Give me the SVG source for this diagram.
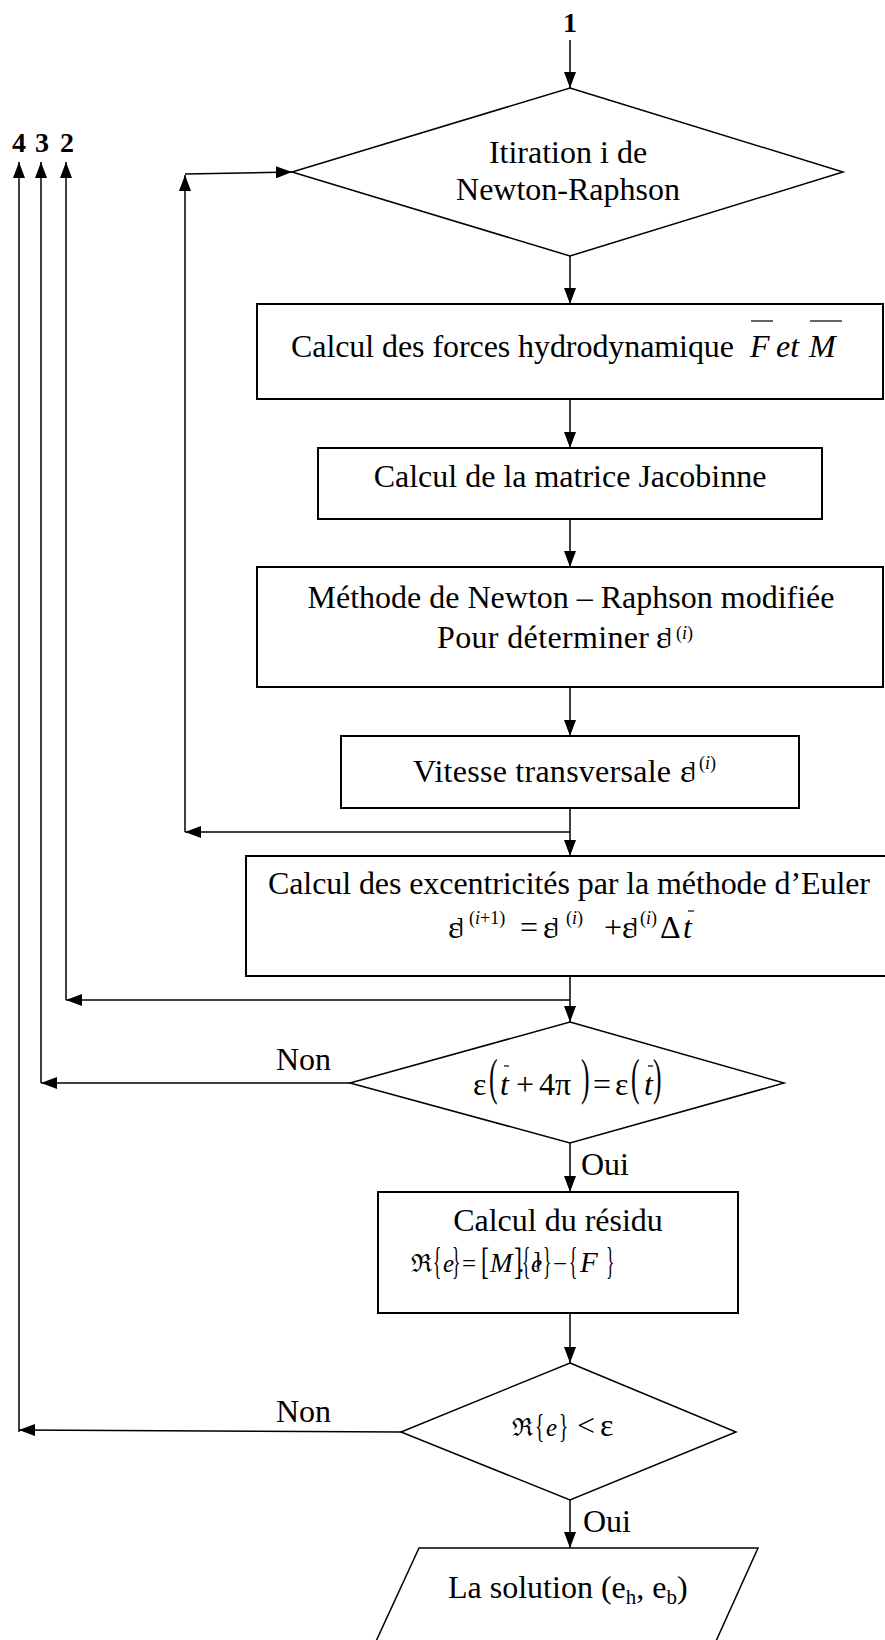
<svg xmlns="http://www.w3.org/2000/svg" width="885" height="1640" viewBox="0 0 885 1640">
  <defs>
    <marker id="ah" markerWidth="16" markerHeight="12" refX="16" refY="6" orient="auto" markerUnits="userSpaceOnUse">
      <path d="M0,0 L16,6 L0,12 Z" fill="#000"/>
    </marker>
    <style>
      .box { fill: #fff; stroke: #000; stroke-width: 2; }
      .dia { fill: #fff; stroke: #000; stroke-width: 1.5; }
      .ln { fill: none; stroke: #000; stroke-width: 1.5; }
      .arr { marker-end: url(#ah); }
      .bar { stroke: #000; stroke-width: 1.2; }
      text { font-family: "Liberation Serif", "Times New Roman", "DejaVu Serif", serif; font-size: 32px; fill: #000; }
      .mid { text-anchor: middle; }
      .it { font-style: italic; }
      .sup { font-size: 18px; }
      .sub { font-size: 21px; }
      .f25 { font-size: 25px; }
      .num { font-weight: bold; font-size: 28px; text-anchor: middle; }
      .mk { font-family: "DejaVu Serif", serif; font-size: 20px; }
      .frak { font-family: "DejaVu Serif", serif; font-size: 25px; }
    </style>
  </defs>

  <!-- connectors -->
  <g id="connectors">
    <path class="ln arr" d="M570,40 V88"/>
    <path class="ln arr" d="M570,256 V304"/>
    <path class="ln arr" d="M570,399 V448"/>
    <path class="ln arr" d="M570,519 V567"/>
    <path class="ln arr" d="M570,687 V736"/>
    <path class="ln arr" d="M570,808 V856"/>
    <!-- inner Newton-Raphson loop -->
    <path class="ln arr" d="M570,832 H185"/>
    <path class="ln arr" d="M185,832 V175"/>
    <path class="ln arr" d="M185,174 L292,172"/>
    <!-- Euler step back to 2 -->
    <path class="ln arr" d="M570,976 V1022"/>
    <path class="ln arr" d="M570,1000 H66"/>
    <path class="ln arr" d="M66,1000 V162"/>
    <!-- periodicity test -->
    <path class="ln arr" d="M350,1083 H41"/>
    <path class="ln arr" d="M41,1083 V162"/>
    <path class="ln arr" d="M570,1143 V1192"/>
    <path class="ln arr" d="M570,1313 V1363"/>
    <!-- residual test -->
    <path class="ln arr" d="M401,1432 L19,1430"/>
    <path class="ln arr" d="M19,1432 V162"/>
    <path class="ln arr" d="M570,1500 V1548"/>

    <text x="276" y="1070">Non</text>
    <text x="581" y="1175">Oui</text>
    <text x="276" y="1422">Non</text>
    <text x="583" y="1532">Oui</text>
  </g>

  <!-- entry / exit labels -->
  <g id="labels">
    <text class="num" x="570" y="32">1</text>
    <text class="num" x="19" y="152">4</text>
    <text class="num" x="42" y="152">3</text>
    <text class="num" x="67" y="152">2</text>
  </g>

  <g id="n-iteration">
    <polygon class="dia" points="570,88 843,172 570,256 292,172"/>
    <text class="mid" x="568" y="163">Itiration i de</text>
    <text class="mid" x="568" y="200">Newton-Raphson</text>
  </g>

  <g id="n-forces">
    <rect class="box" x="257" y="304" width="626" height="95"/>
    <text x="291" y="357" textLength="443">Calcul des forces hydrodynamique</text>
    <text class="it" x="750" y="357">F</text>
    <text class="it" x="776" y="357">et</text>
    <text class="it" x="809" y="357">M</text>
    <line class="bar" x1="751" y1="321" x2="773" y2="321"/>
    <line class="bar" x1="810" y1="321" x2="842" y2="321"/>
  </g>

  <g id="n-jacobian">
    <rect class="box" x="318" y="448" width="504" height="71"/>
    <text class="mid" x="570" y="487">Calcul de la matrice Jacobinne</text>
  </g>

  <g id="n-newton">
    <rect class="box" x="257" y="567" width="626" height="120"/>
    <text class="mid" x="571" y="608">Méthode de Newton – Raphson modifiée</text>
    <text x="437" y="648" textLength="212">Pour déterminer</text>
    <text x="656" y="648">ε</text>
    <text class="mk" x="664" y="643">⌉</text>
    <text class="sup" x="676" y="639">(<tspan class="it">i</tspan>)</text>
  </g>

  <g id="n-velocity">
    <rect class="box" x="341" y="736" width="458" height="72"/>
    <text x="413" y="782" textLength="258">Vitesse transversale</text>
    <text x="680" y="782">ε</text>
    <text class="mk" x="688" y="777">⌉</text>
    <text class="sup" x="699" y="769">(<tspan class="it">i</tspan>)</text>
  </g>

  <g id="n-euler">
    <rect class="box" x="246" y="856" width="650" height="120"/>
    <text x="268" y="894" textLength="602">Calcul des excentricités par la méthode d’Euler</text>
    <text x="448" y="938">ε</text>
    <text class="mk" x="456" y="933">⌉</text>
    <text class="sup" x="469" y="924">(<tspan class="it">i</tspan>+1)</text>
    <text x="520" y="938">=</text>
    <text x="543" y="938">ε</text>
    <text class="mk" x="551" y="933">⌉</text>
    <text class="sup" x="566" y="924">(<tspan class="it">i</tspan>)</text>
    <text x="604" y="938">+</text>
    <text x="622" y="938">ε</text>
    <text class="mk" x="630" y="933">⌉</text>
    <text class="sup" x="640" y="924">(<tspan class="it">i</tspan>)</text>
    <text x="660" y="938">Δ</text>
    <text class="it" x="683" y="938">t</text>
    <line class="bar" x1="688" y1="911" x2="694" y2="911"/>
  </g>

  <g id="n-periodic">
    <polygon class="dia" points="570,1022 784,1083 570,1143 350,1083"/>
    <text x="473" y="1095">ε</text>
    <text transform="translate(489,1094) scale(0.8,1.55)">(</text>
    <text class="it" x="500" y="1095">t</text>
    <line class="bar" x1="504" y1="1066" x2="509" y2="1066"/>
    <text x="516" y="1095">+</text>
    <text x="539" y="1095">4π</text>
    <text transform="translate(581,1094) scale(0.8,1.55)">)</text>
    <text x="593" y="1095">=</text>
    <text x="615" y="1095">ε</text>
    <text transform="translate(631,1094) scale(0.8,1.55)">(</text>
    <text class="it" x="644" y="1095">t</text>
    <line class="bar" x1="648" y1="1066" x2="653" y2="1066"/>
    <text transform="translate(653,1094) scale(0.8,1.55)">)</text>
  </g>

  <g id="n-residual">
    <rect class="box" x="378" y="1192" width="360" height="121"/>
    <text class="mid" x="558" y="1231">Calcul du résidu</text>
    <text class="frak" x="411" y="1272">ℜ</text>
    <text transform="translate(433,1274) scale(0.55,1.2)">{</text>
    <text class="it f25" x="443" y="1272">e</text>
    <text transform="translate(452,1274) scale(0.55,1.2)">}</text>
    <text class="f25" x="462" y="1272">=</text>
    <text transform="translate(481,1274) scale(0.75,1.2)">[</text>
    <text class="it" x="490" y="1272" style="font-size:27px">M</text>
    <text transform="translate(514,1274) scale(0.75,1.2)">]</text>
    <text class="f25" x="518" y="1272">.</text>
    <text transform="translate(522,1274) scale(0.55,1.2)">{</text>
    <text class="it f25" x="531" y="1272">e</text>
    <text class="mk" x="533" y="1267">⌉</text>
    <text transform="translate(543,1274) scale(0.55,1.2)">}</text>
    <text class="f25" x="553" y="1272">−</text>
    <text transform="translate(569,1274) scale(0.55,1.2)">{</text>
    <text class="it" x="580" y="1272" style="font-size:29px">F</text>
    <text transform="translate(606,1274) scale(0.55,1.2)">}</text>
  </g>

  <g id="n-converged">
    <polygon class="dia" points="570,1363 736,1432 570,1500 401,1432"/>
    <text class="frak" x="512" y="1436">ℜ</text>
    <text transform="translate(535,1437) scale(0.6,1.05)">{</text>
    <text class="it f25" x="546" y="1436">e</text>
    <text transform="translate(559,1437) scale(0.6,1.05)">}</text>
    <text x="577" y="1436">&lt;</text>
    <text x="600" y="1436">ε</text>
  </g>

  <g id="n-solution">
    <polygon class="dia" points="419,1548 758,1548 712,1650 372,1650"/>
    <text x="448" y="1598">La solution (e<tspan class="sub" dy="6">h</tspan><tspan dy="-6">, e</tspan><tspan class="sub" dy="6">b</tspan><tspan dy="-6">)</tspan></text>
  </g>
</svg>
